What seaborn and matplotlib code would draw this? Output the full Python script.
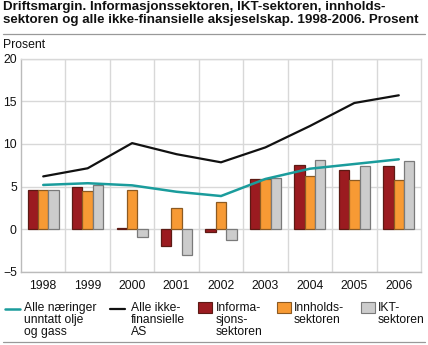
import matplotlib
matplotlib.use("Agg")
import matplotlib.pyplot as plt
import seaborn as sns
import pandas as pd
import numpy as np
from matplotlib.lines import Line2D
from matplotlib.patches import Rectangle

years = ["1998", "1999", "2000", "2001", "2002", "2003", "2004", "2005", "2006"]
alle_naeringer = [5.2, 5.4, 5.15, 4.4, 3.9, 5.9, 7.1, 7.65, 8.2]
alle_ikke_fin = [6.2, 7.15, 10.1, 8.8, 7.85, 9.6, 12.1, 14.8, 15.7]
informasjon = [4.6, 5.0, 0.1, -1.9, -0.3, 5.9, 7.5, 7.0, 7.4]
innhold = [4.6, 4.5, 4.6, 2.5, 3.2, 5.9, 6.2, 5.75, 5.75]
ikt = [4.6, 5.2, -0.85, -3.0, -1.3, 6.0, 8.1, 7.45, 8.0]

bar_names = ["Informa-\nsjons-\nsektoren", "Innholds-\nsektoren", "IKT-\nsektoren"]
line_names = ["Alle næringer\nunntatt olje\nog gass", "Alle ikke-\nfinansielle\nAS"]

c_red, c_orange, c_gray = "#9b1b20", "#f79a34", "#cccccc"
e_red, e_orange, e_gray = "#5c1a14", "#8c5a22", "#7a7a7a"
c_teal, c_black = "#1a9c9c", "#111111"

sns.set_theme(style="white")
plt.rcParams["font.family"] = ["Liberation Sans", "DejaVu Sans"]

W, H = 428, 345
fig = plt.figure(figsize=(W / 100, H / 100), dpi=100)

def fx(px):
    return px / W

def fy(py):
    return 1 - py / H

ax = fig.add_axes([fx(21), fy(272), fx(421) - fx(21), fy(58.6) - fy(272)])

bars = pd.DataFrame({
    "year": years * 3,
    "value": informasjon + innhold + ikt,
    "serie": sum([[n] * len(years) for n in bar_names], []),
})
sns.barplot(data=bars, x="year", y="value", hue="serie", order=years,
            hue_order=bar_names, palette=[c_red, c_orange, c_gray],
            width=0.7, gap=0, ax=ax, legend=False, saturation=1,
            linewidth=0.9)
edge = {0: e_red, 1: e_orange, 2: e_gray}
for i, cont in enumerate(ax.containers):
    for p in cont:
        p.set_edgecolor(edge[i])
        p.set_zorder(3)

lines = pd.DataFrame({"year": years, "a": alle_naeringer, "b": alle_ikke_fin})
sns.pointplot(data=lines, x="year", y="a", order=years, color=c_teal,
              marker="", linewidth=1.8, ax=ax, errorbar=None)
sns.pointplot(data=lines, x="year", y="b", order=years, color=c_black,
              marker="", linewidth=1.6, ax=ax, errorbar=None)
for l in ax.lines:
    l.set_zorder(4)

ax.set_xlim(-0.5, len(years) - 0.5)
ax.set_ylim(-5, 20)
ax.set_yticks([-5, 0, 5, 10, 15, 20])
ax.set_xlabel("")
ax.set_ylabel("")
ax.set_xticks(np.arange(len(years)))
ax.set_xticklabels(years)
ax.tick_params(axis="both", length=0, labelsize=8.8, colors="#111111")
ax.tick_params(axis="y", pad=3)
ax.tick_params(axis="x", pad=6)
ax.yaxis.grid(True, color="#d8d8d8", linewidth=1.0, zorder=0)
for b in np.arange(0.5, len(years) - 0.5, 1):
    ax.axvline(b, color="#d8d8d8", linewidth=1.0, zorder=0)
ax.set_axisbelow(True)
for s in ax.spines.values():
    s.set_color("#d8d8d8")
    s.set_linewidth(1.0)
ax.spines["left"].set_color("#bbbbbb")
ax.spines["bottom"].set_color("#bbbbbb")

# title & labels
fig.text(fx(3), fy(1), "Driftsmargin. Informasjonssektoren, IKT-sektoren, innholds-\n"
         "sektoren og alle ikke-finansielle aksjeselskap. 1998-2006. Prosent",
         fontsize=9.6, fontweight="bold", va="top", ha="left", linespacing=1.15,
         color="#111111")
fig.add_artist(Line2D([fx(3), fx(425)], [fy(34), fy(34)], color="#999999", linewidth=0.9))
fig.text(fx(3), fy(45.5), "Prosent", fontsize=8.8, va="center", ha="left", color="#111111")
fig.add_artist(Line2D([fx(3), fx(425)], [fy(341.5), fy(341.5)], color="#999999", linewidth=0.9))

# legend
leg_y = 309
def leg_text(x, s):
    fig.text(fx(x), fy(302), s, fontsize=8.7, va="top", ha="left",
             linespacing=1.02, color="#111111")

fig.add_artist(Line2D([fx(5), fx(20)], [fy(leg_y), fy(leg_y)], color=c_teal, linewidth=1.8))
leg_text(24, line_names[0])
fig.add_artist(Line2D([fx(110), fx(125)], [fy(leg_y), fy(leg_y)], color=c_black, linewidth=1.6))
leg_text(131, line_names[1])
for x0, fc, ec, name, tx in [(198, c_red, e_red, bar_names[0], 216),
                             (277, c_orange, e_orange, bar_names[1], 294),
                             (361, c_gray, e_gray, bar_names[2], 378)]:
    fig.add_artist(Rectangle((fx(x0), fy(313)), fx(14), fy(302) - fy(313),
                             facecolor=fc, edgecolor=ec, linewidth=0.8,
                             transform=fig.transFigure))
    leg_text(tx, name)

fig.savefig("out.png", dpi=100)
